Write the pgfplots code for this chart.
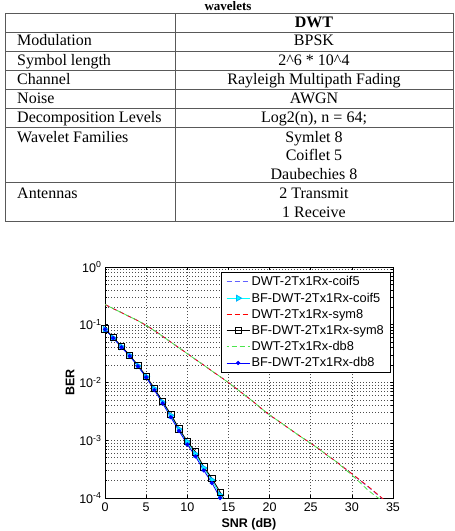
\documentclass[border=0pt]{standalone}
\usepackage{fontspec}
\setmainfont{Liberation Serif}
\setsansfont{Liberation Sans}
\usepackage{pgfplots}
\pgfplotsset{compat=1.18}
\definecolor{mblue}{rgb}{0.38,0.38,1}
\definecolor{mcyan}{rgb}{0,1,1}
\definecolor{mgreen}{rgb}{0.3,0.9,0.3}
\definecolor{tline}{gray}{0.35}
\begin{document}
\begin{tikzpicture}
\useasboundingbox (0pt,0pt) rectangle (455pt,-531pt);
\tikzset{tt/.style={font=\fontsize{16}{18}\selectfont, inner sep=0pt}}
% caption
\node[anchor=base, inner sep=0pt, font=\fontsize{13}{15}\selectfont\bfseries] at (228pt,-10pt) {wavelets};
% table rules
\begin{scope}[draw=tline, line width=0.9pt]
\foreach \yy in {13,32,51,70,89,108,127,182,221} \draw (5pt,-\yy pt) -- (453.5pt,-\yy pt);
\draw (5pt,-13pt) -- (5pt,-221pt);
\draw (175pt,-13pt) -- (175pt,-221pt);
\draw (453.5pt,-13pt) -- (453.5pt,-221pt);
\end{scope}
% table text
\node[tt, anchor=base] at (314pt,-27pt) {\textbf{DWT}};
\node[tt, anchor=base west] at (17pt,-45.5pt) {Modulation};
\node[tt, anchor=base] at (314pt,-45.5pt) {BPSK};
\node[tt, anchor=base west] at (17pt,-65pt) {Symbol length};
\node[tt, anchor=base] at (314pt,-65pt) {2\textasciicircum 6 * 10\textasciicircum 4};
\node[tt, anchor=base west] at (17pt,-84pt) {Channel};
\node[tt, anchor=base] at (314pt,-84pt) {Rayleigh Multipath Fading};
\node[tt, anchor=base west] at (17pt,-103pt) {Noise};
\node[tt, anchor=base] at (314pt,-103pt) {AWGN};
\node[tt, anchor=base west] at (17pt,-122pt) {Decomposition Levels};
\node[tt, anchor=base] at (314pt,-122pt) {Log2(n), n = 64;};
\node[tt, anchor=base west] at (17pt,-142pt) {Wavelet Families};
\node[tt, anchor=base] at (314pt,-142pt) {Symlet 8};
\node[tt, anchor=base] at (314pt,-160.5pt) {Coiflet 5};
\node[tt, anchor=base] at (314pt,-179pt) {Daubechies 8};
\node[tt, anchor=base west] at (17pt,-198.5pt) {Antennas};
\node[tt, anchor=base] at (314pt,-198.5pt) {2 Transmit};
\node[tt, anchor=base] at (314pt,-217pt) {1 Receive};

\begin{axis}[
  at={(105pt,-498pt)}, anchor=south west,
  width=288pt, height=231pt, scale only axis,
  ymode=log, xmin=0, xmax=35, ymin=1e-4, ymax=1,
  xtick={0,5,10,15,20,25,30,35},
  ytick={1e-4,1e-3,1e-2,1e-1,1},
  yticklabels={10\textsuperscript{-4},10\textsuperscript{-3},10\textsuperscript{-2},10\textsuperscript{-1},10\textsuperscript{0}},
  /pgf/number format/assume math mode=true,
  tick align=inside, tick pos=both,
  major tick length=3pt, minor tick length=1.8pt,
  xmajorgrids, ymajorgrids, yminorgrids,
  grid style={black!70, line width=0.5pt, dash pattern=on 0.7pt off 2.3pt},
  minor grid style={black!70, line width=0.5pt, dash pattern=on 0.7pt off 2.3pt},
  axis line style={black, line width=0.8pt},
  every tick/.style={black, line width=0.6pt},
  tick label style={font=\sffamily\fontsize{12.5}{14}\selectfont},
  xticklabel style={yshift=-1pt},
  label style={font=\sffamily\bfseries\fontsize{12.5}{14}\selectfont},
  xlabel={SNR (dB)}, ylabel={BER},
  xlabel style={at={(axis description cs:0.5,-0.1255)}, anchor=base},
  ylabel style={at={(axis description cs:-0.1215,0.5)}, anchor=center},
  legend style={at={(axis description cs:0.99,0.978)}, anchor=north east,
    font=\sffamily\fontsize{12.8}{14}\selectfont, draw=black, line width=0.6pt,
    fill=white, inner xsep=4.5pt, inner ysep=2.5pt, row sep=2.6pt,
    nodes={inner sep=1.5pt}},
  legend cell align=left,
  legend image code/.code={\draw[mark repeat=2,mark phase=2,#1] plot coordinates {(0pt,0pt) (11.5pt,0pt) (23pt,0pt)};},
]
% DWT coif5 (blue dashed)
\addplot[mblue, line width=0.8pt, dash pattern=on 5pt off 3pt] coordinates {
(0,0.2239) (1,0.1905) (2,0.1622) (3,0.1380) (4,0.1175) (5,0.0977) (6,0.0794) (7,0.0631) (8,0.0501) (9,0.0398)
(10,0.0320) (11,0.0251) (12,0.0200) (13,0.0158) (14,0.0126) (15,0.0100) (16,0.00776) (17,0.00603) (18,0.00468) (19,0.00355)
(20,0.00270) (21,0.00219) (22,0.00174) (23,0.00138) (24,0.00110) (25,8.91e-4) (26,7.08e-4) (27,5.50e-4) (28,4.40e-4) (29,3.39e-4)
(30,2.63e-4) (31,2.00e-4) (32,1.55e-4) (33,1.18e-4) (34,9.0e-5)};
\addlegendentry{DWT-2Tx1Rx-coif5}
% BF-DWT coif5 (cyan triangles)
\addplot[mcyan, line width=0.8pt, mark=triangle*, mark size=3.4pt, mark options={solid, rotate=-90, fill=mcyan, draw=mcyan!70!blue}] coordinates {
(0,0.0832) (1,0.0589) (2,0.0417) (3,0.0295) (4,0.0195) (5,0.0126) (6,0.00776) (7,0.00457) (8,0.00269) (9,0.00155)
(10,9.33e-4) (11,5.75e-4) (12,3.31e-4) (13,2.04e-4) (14,1.12e-4) (15,6.3e-5)};
\addlegendentry{BF-DWT-2Tx1Rx-coif5}
% DWT sym8 (red dashed)
\addplot[red, line width=0.8pt, dash pattern=on 5pt off 3pt] coordinates {
(0,0.2239) (1,0.1905) (2,0.1622) (3,0.1380) (4,0.1175) (5,0.0977) (6,0.0794) (7,0.0631) (8,0.0501) (9,0.0398)
(10,0.0316) (11,0.0251) (12,0.0200) (13,0.0158) (14,0.0126) (15,0.0100) (16,0.00776) (17,0.00603) (18,0.00468) (19,0.00355)
(20,0.00275) (21,0.00219) (22,0.00174) (23,0.00138) (24,0.00110) (25,8.91e-4) (26,7.08e-4) (27,5.50e-4) (28,4.37e-4) (29,3.39e-4)
(30,2.63e-4) (31,2.04e-4) (32,1.58e-4) (33,1.20e-4) (34,9.1e-5)};
\addlegendentry{DWT-2Tx1Rx-sym8}
% BF-DWT sym8 (black squares)
\addplot[black, line width=0.8pt, mark=square, mark size=3.2pt, mark options={solid}] coordinates {
(0,0.0851) (1,0.0603) (2,0.0427) (3,0.0295) (4,0.0200) (5,0.0129) (6,0.00794) (7,0.00468) (8,0.00282) (9,0.00158)
(10,9.55e-4) (11,6.31e-4) (12,3.47e-4) (13,2.19e-4) (14,1.26e-4) (15,7.1e-5)};
\addlegendentry{BF-DWT-2Tx1Rx-sym8}
% DWT db8 (green dashed)
\addplot[mgreen, line width=0.8pt, dash pattern=on 5pt off 3pt, dash phase=3pt] coordinates {
(0,0.2239) (1,0.1905) (2,0.1622) (3,0.1380) (4,0.1175) (5,0.0977) (6,0.0794) (7,0.0631) (8,0.0501) (9,0.0398)
(10,0.0316) (11,0.0251) (12,0.0200) (13,0.0158) (14,0.0126) (15,0.0100) (16,0.00776) (17,0.00603) (18,0.00468) (19,0.00355)
(20,0.00275) (21,0.00219) (22,0.00174) (23,0.00138) (24,0.00110) (25,8.8e-4) (26,7.08e-4) (27,5.50e-4) (28,4.37e-4) (29,3.30e-4)
(30,2.50e-4) (31,1.85e-4) (32,1.35e-4) (33,1.05e-4) (34,8.5e-5)};
\addlegendentry{DWT-2Tx1Rx-db8}
% BF-DWT db8 (blue dots)
\addplot[blue, line width=0.8pt, mark=*, mark size=1.7pt, mark options={solid}] coordinates {
(0,0.0832) (1,0.0589) (2,0.0407) (3,0.0288) (4,0.0191) (5,0.0123) (6,0.00741) (7,0.00437) (8,0.00251) (9,0.00145)
(10,8.51e-4) (11,5.25e-4) (12,3.02e-4) (13,1.82e-4) (14,1.00e-4) (15,5.0e-5)};
\addlegendentry{BF-DWT-2Tx1Rx-db8}
\end{axis}
\end{tikzpicture}
\end{document}
